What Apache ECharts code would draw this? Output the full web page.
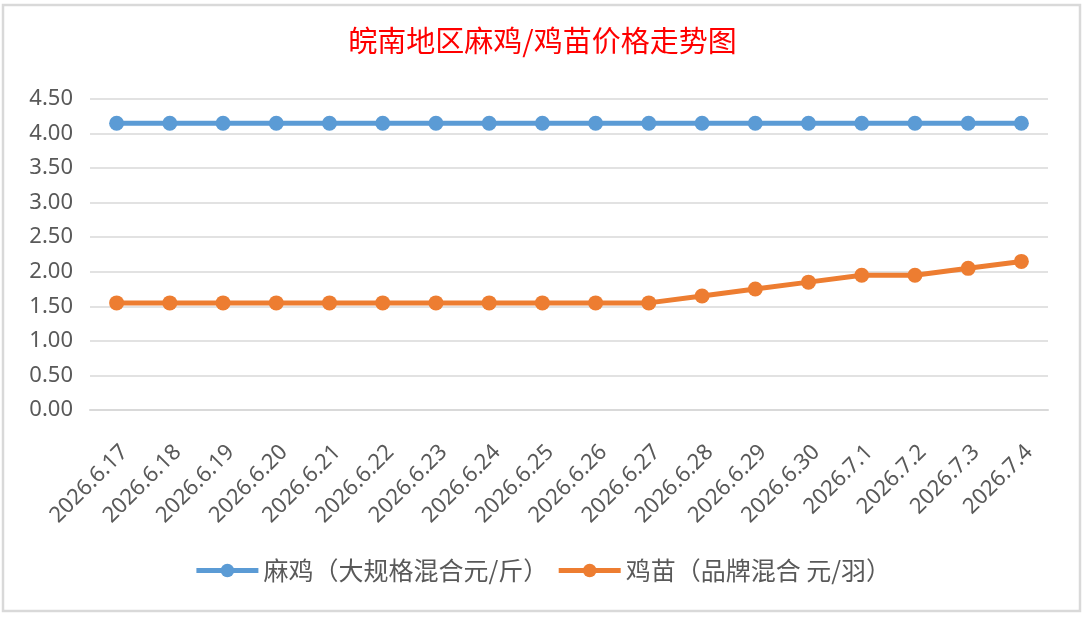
<!DOCTYPE html>
<html>
<head>
<meta charset="utf-8">
<title>皖南地区麻鸡/鸡苗价格走势图</title>
<script src="https://cdn.jsdelivr.net/npm/echarts@6/dist/echarts.min.js"></script>
<style>
  html, body { margin: 0; padding: 0; background: #fff; }
  #main { width: 1085px; height: 617px; }
</style>
</head>
<body>
<div id="main"></div>
<script>
// 日期
var dates = ['2026.6.17', '2026.6.18', '2026.6.19', '2026.6.20', '2026.6.21', '2026.6.22',
  '2026.6.23', '2026.6.24', '2026.6.25', '2026.6.26', '2026.6.27', '2026.6.28',
  '2026.6.29', '2026.6.30', '2026.7.1', '2026.7.2', '2026.7.3', '2026.7.4'];
// 麻鸡（大规格混合 元/斤）
var majiPrice = [4.15, 4.15, 4.15, 4.15, 4.15, 4.15, 4.15, 4.15, 4.15, 4.15, 4.15, 4.15,
  4.15, 4.15, 4.15, 4.15, 4.15, 4.15];
// 鸡苗（品牌混合 元/羽）
var jimiaoPrice = [1.55, 1.55, 1.55, 1.55, 1.55, 1.55, 1.55, 1.55, 1.55, 1.55, 1.55, 1.65,
  1.75, 1.85, 1.95, 1.95, 2.05, 2.15];
var seriesNames = ['麻鸡（大规格混合元/斤）', '鸡苗（品牌混合 元/羽）'];

var chart = echarts.init(document.getElementById('main'));
var fontCJK = '"Noto Sans CJK SC", "Noto Sans", sans-serif';

var option = {
  backgroundColor: '#fff',
  animation: false,
  graphic: [{
    type: 'rect',
    shape: { x: 3, y: 5, width: 1077, height: 606 },
    style: { fill: 'none', stroke: '#d9d9d9', lineWidth: 2.5 },
    silent: true
  }],
  title: {
    text: '皖南地区麻鸡/鸡苗价格走势图',
    left: 'center',
    top: 21,
    textStyle: {
      color: '#ff0000',
      fontSize: 29,
      fontWeight: 'normal',
      fontFamily: fontCJK
    }
  },
  legend: {
    top: 553,
    left: 'center',
    itemWidth: 62,
    itemHeight: 17,
    itemGap: 8,
    data: seriesNames,
    lineStyle: { width: 5 },
    textStyle: { color: '#595959', fontSize: 25, fontFamily: fontCJK }
  },
  grid: { left: 90, right: 37, top: 99, bottom: 207 },
  xAxis: {
    type: 'category',
    boundaryGap: true,
    data: dates,
    axisLine: { lineStyle: { color: '#d9d9d9', width: 2 } },
    axisTick: { show: false },
    axisLabel: {
      rotate: 45,
      margin: 31,
      verticalAlign: 'top',
      color: '#595959',
      fontSize: 22,
      fontFamily: '"Noto Sans", sans-serif',
      interval: 0
    }
  },
  yAxis: {
    type: 'value',
    min: 0,
    max: 4.5,
    interval: 0.5,
    axisLine: { show: false },
    axisTick: { show: false },
    axisLabel: {
      margin: 17,
      color: '#595959',
      fontSize: 22,
      fontFamily: '"Noto Sans", sans-serif',
      formatter: function (v) { return v.toFixed(2); }
    },
    splitLine: { lineStyle: { color: '#d9d9d9', width: 1.5 } }
  },
  series: [
    {
      name: seriesNames[0],
      type: 'line',
      data: majiPrice,
      symbol: 'circle',
      symbolSize: 15,
      itemStyle: { color: '#5b9bd5' },
      lineStyle: { color: '#5b9bd5', width: 5 }
    },
    {
      name: seriesNames[1],
      type: 'line',
      data: jimiaoPrice,
      symbol: 'circle',
      symbolSize: 15,
      itemStyle: { color: '#ed7d31' },
      lineStyle: { color: '#ed7d31', width: 5 }
    }
  ]
};
chart.setOption(option);
</script>
</body>
</html>
